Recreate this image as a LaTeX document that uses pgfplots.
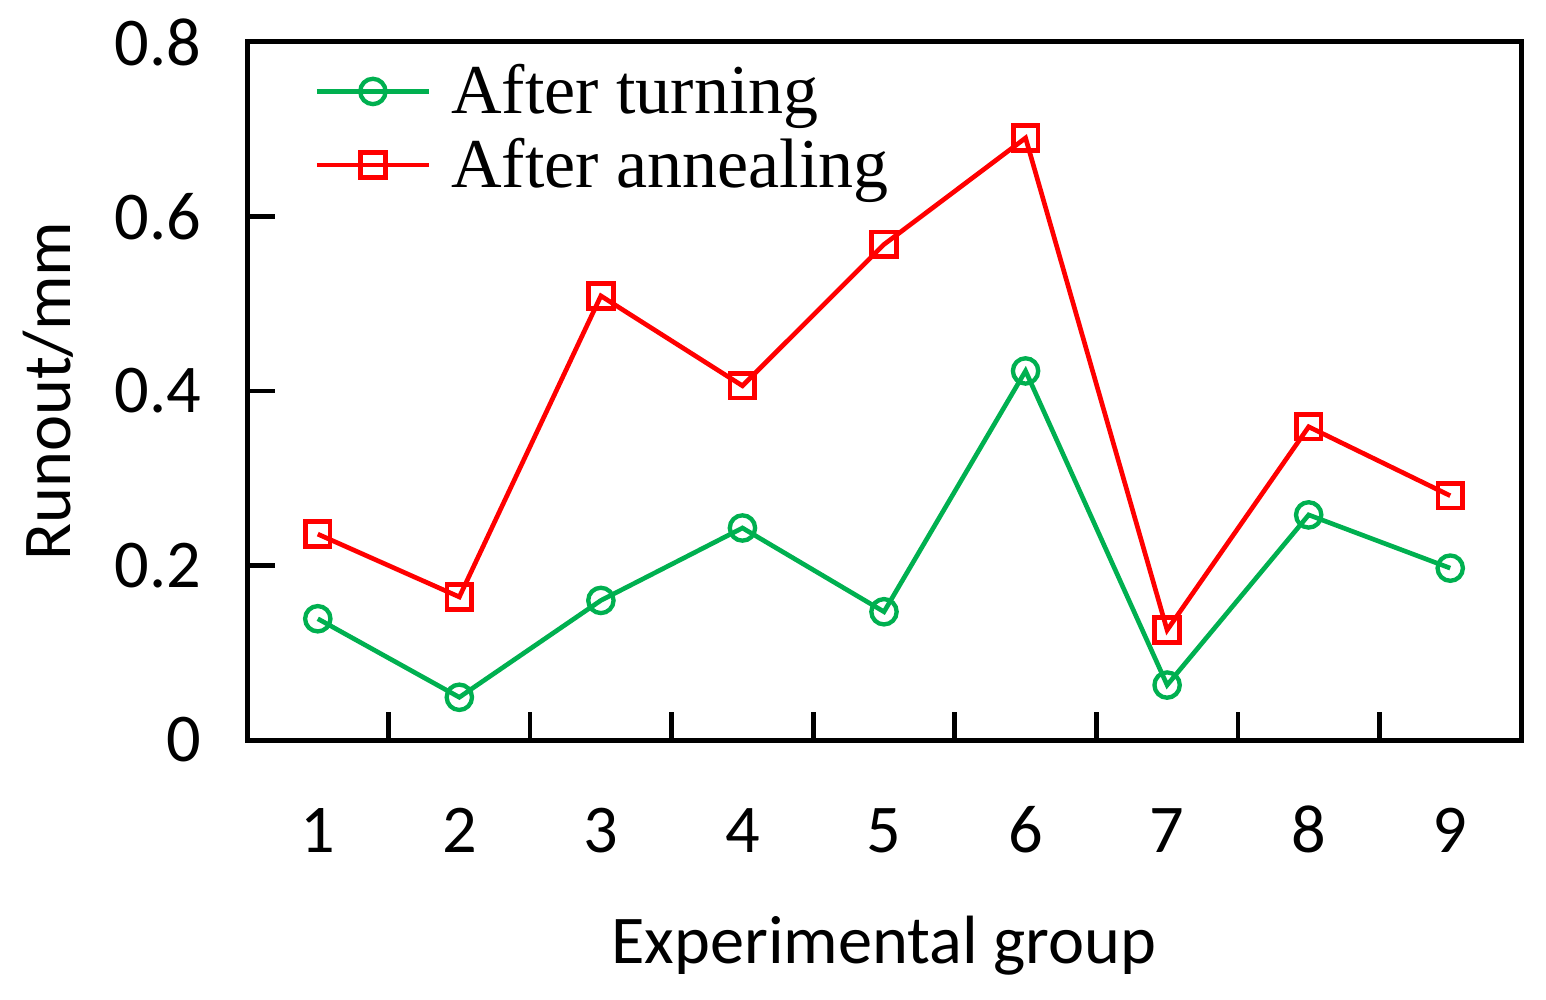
\documentclass[border=0pt]{standalone}
\usepackage{fontspec}
\setmainfont{Carlito}
\newfontfamily\timesfont{Liberation Serif}
\usepackage{pgfplots}
\pgfplotsset{compat=1.18}
\definecolor{cgreen}{RGB}{0,176,80}
\definecolor{cred}{RGB}{255,0,0}
\begin{document}
\begin{tikzpicture}
\begin{axis}[
  name=ax,
  scale only axis,
  width=382.2pt, height=209.4pt,
  xmin=0.5, xmax=9.5, ymin=0, ymax=0.8,
  clip=false,
  axis line style={line width=1.5pt, black},
  tick pos=left,
  tick align=inside,
  xtick={1,2,3,4,5,6,7,8,9},
  minor xtick={1.5,2.5,3.5,4.5,5.5,6.5,7.5,8.5},
  xtick style={/pgfplots/major tick length=0pt},
  minor tick length=8.4pt,
  major tick length=8.4pt,
  every tick/.style={black, line width=1.4pt},
  minor tick style={black, line width=1.4pt},
  ytick={0,0.2,0.4,0.6,0.8},
  yticklabels={0,0.2,0.4,0.6,0.8},
  /pgf/number format/assume math mode=true,
  tick label style={font=\fontsize{20.5}{24}\selectfont},
  xticklabel style={anchor=base, yshift=-33.6pt},
  yticklabel style={anchor=east, inner sep=0pt, xshift=-13.5pt},
  xlabel={Experimental group},
  ylabel={Runout/mm},
  label style={font=\fontsize{20.5}{24}\selectfont},
  xlabel style={at={(axis description cs:0.5,-0.3195)}, anchor=base},
  ylabel style={at={(axis description cs:-0.1389,0.5)}, anchor=base},
  legend style={at={(axis description cs:0.0525,0.969)}, anchor=north west,
    draw=none, fill=none, inner sep=0pt,
    font=\timesfont\fontsize{21}{25}\selectfont,
    row sep=5.8pt, column sep=6pt,
    nodes={inner sep=0pt}},
  legend cell align=left,
  legend image code/.code={\draw[mark repeat=2,mark phase=2,#1] plot coordinates {(0pt,0pt)(16.8pt,0pt)(33.6pt,0pt)};},
]
\addplot[color=cgreen, line width=1.4pt, mark=o, mark size=3.8pt, mark options={line width=1.3pt, solid}]
  coordinates {(1,0.139)(2,0.049)(3,0.160)(4,0.243)(5,0.147)(6,0.423)(7,0.063)(8,0.258)(9,0.197)};
\addlegendentry{After turning}
\addplot[color=cred, line width=1.4pt, mark=square, mark size=3.7pt, mark options={line width=1.4pt, solid}]
  coordinates {(1,0.236)(2,0.164)(3,0.509)(4,0.406)(5,0.568)(6,0.690)(7,0.126)(8,0.359)(9,0.280)};
\addlegendentry{After annealing}
\end{axis}
\pgfresetboundingbox
\path ([xshift=-74.1pt,yshift=-77.7pt]ax.south west) rectangle ([xshift=7.5pt,yshift=12.6pt]ax.north east);
\end{tikzpicture}
\end{document}
